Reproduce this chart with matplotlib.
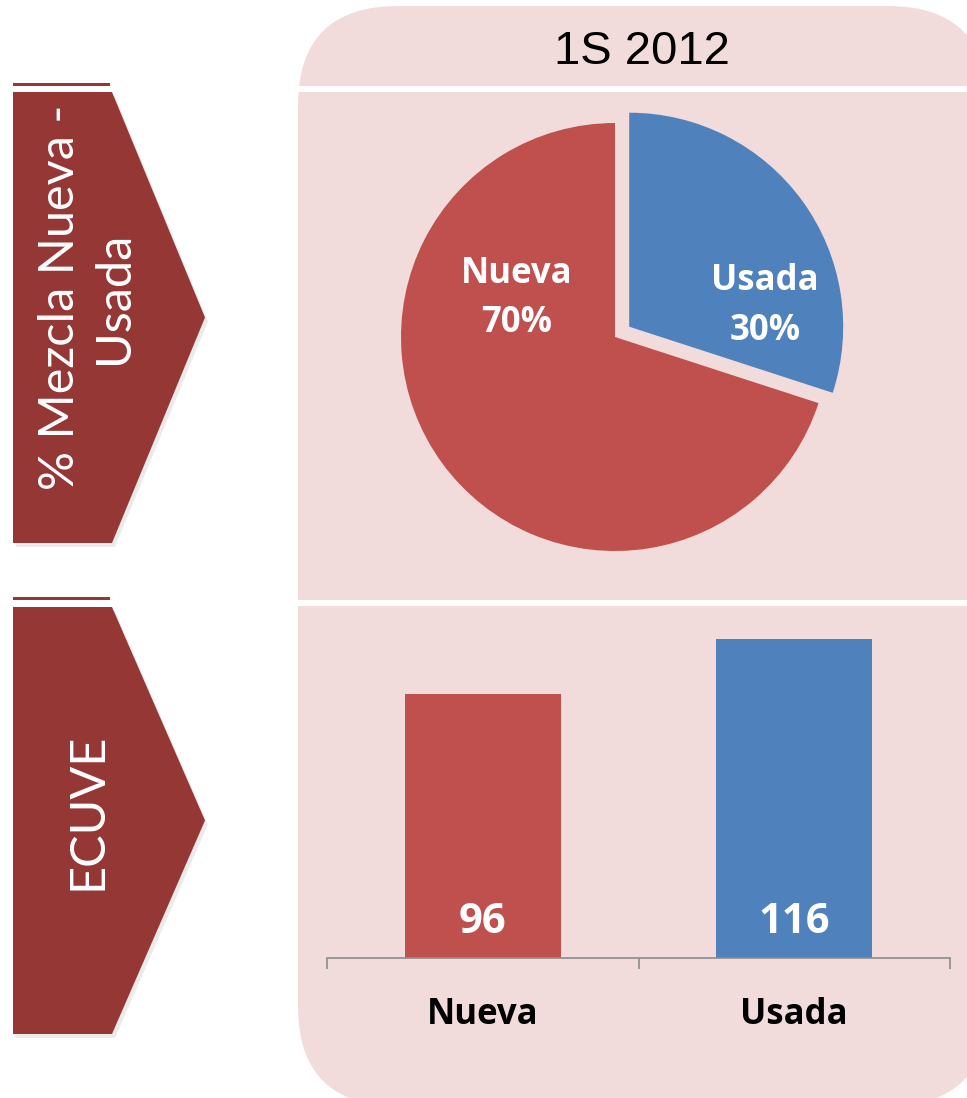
import matplotlib
matplotlib.use("Agg")
import matplotlib.pyplot as plt
from matplotlib.patches import FancyBboxPatch, Polygon, Rectangle

# data
period = "1S 2012"
categories = ["Nueva", "Usada"]
mix_pct = [70, 30]          # % Mezcla Nueva - Usada
ecuve = [96, 116]           # ECUVE
row_labels = ["% Mezcla Nueva -\nUsada", "ECUVE"]

RED = "#C0504D"
BLUE = "#4F81BD"
DARK = "#953735"
PINK = "#F2DCDB"
GRID = "#8C8C8C"

W, H = 967, 1098
fig = plt.figure(figsize=(W / 100, H / 100), dpi=100)

# background layer in pixel units
bg = fig.add_axes([0, 0, 1, 1], zorder=0)
bg.set_xlim(0, W)
bg.set_ylim(H, 0)
bg.axis("off")

panel = FancyBboxPatch((298, 6), 690, 1100,
                       boxstyle="round,pad=0,rounding_size=100",
                       fc=PINK, ec="none")
bg.add_patch(panel)
bg.add_patch(Rectangle((290, 86), 700, 6, fc="white", ec="none"))
bg.add_patch(Rectangle((290, 600), 700, 6, fc="white", ec="none"))
bg.text(642, 52, period, ha="center", va="center", fontsize=34,
        family="Liberation Sans", color="black")

# row chevrons
rows = [(92, 543, 83, -20), (607, 1034, 597, -9)]
for (top, bot, line_y, dy), lab in zip(rows, row_labels):
    mid = (top + bot) / 2
    pts = [(13, top), (112, top), (205, mid), (112, bot), (13, bot)]
    shadow = [(x + 3, y + 4) for x, y in pts]
    bg.add_patch(Polygon(shadow, closed=True, fc="#000000", alpha=0.08, ec="none"))
    bg.add_patch(Polygon(pts, closed=True, fc=DARK, ec="none"))
    bg.add_patch(Rectangle((13, line_y), 97, 3, fc=DARK, ec="none"))
    bg.text(87, mid + dy, lab, rotation=90, ha="center", va="center",
            fontsize=35, family="Lato", color="white", linespacing=1.3,
            multialignment="center")

# pie
cx, cy, r, half = 615, 337, 214, 240
ax_pie = fig.add_axes([(cx - half) / W, (H - cy - half) / H, 2 * half / W, 2 * half / H],
                      zorder=2)
ax_pie.pie([mix_pct[1], mix_pct[0]], colors=[BLUE, RED], startangle=90,
           counterclock=False, explode=[0.082, 0], radius=1,
           wedgeprops=dict(linewidth=0))
ax_pie.set_xlim(-half / r, half / r)
ax_pie.set_ylim(-half / r, half / r)
ax_pie.set_aspect("auto")
ax_pie.axis("off")
ax_pie.text(-0.458, 0.18, f"{categories[0]}\n{mix_pct[0]}%", ha="center", va="center",
            fontsize=25, family="Open Sans", fontweight="bold", color="white",
            linespacing=1.5)
ax_pie.text(0.70, 0.145, f"{categories[1]}\n{mix_pct[1]}%", ha="center", va="center",
            fontsize=25, family="Open Sans", fontweight="bold", color="white",
            linespacing=1.5)

# bars
left, right, base, top = 327, 950, 958, 620
ax_bar = fig.add_axes([left / W, (H - base) / H, (right - left) / W, (base - top) / H],
                      zorder=2)
ax_bar.patch.set_alpha(0)
x = [0, 1]
ax_bar.bar(x, ecuve, width=0.5, color=[RED, BLUE])
ax_bar.set_xlim(-0.5, 1.5)
ax_bar.set_ylim(0, (base - top) / 2.75)
for s in ["top", "right", "left"]:
    ax_bar.spines[s].set_visible(False)
ax_bar.spines["bottom"].set_color(GRID)
ax_bar.spines["bottom"].set_linewidth(1.2)
ax_bar.set_yticks([])
ax_bar.set_xticks(x)
ax_bar.set_xticklabels(categories, fontsize=25, family="Open Sans",
                       fontweight="bold", color="black")
ax_bar.tick_params(axis="x", which="major", length=0, pad=28)
ax_bar.set_xticks([-0.5, 0.5, 1.5], minor=True)
ax_bar.tick_params(axis="x", which="minor", length=8, width=1.2, color=GRID, direction="out")
for xi, v in zip(x, ecuve):
    ax_bar.text(xi, 13, str(v), ha="center", va="center", fontsize=30,
                family="Open Sans", fontweight="bold", color="white")

fig.savefig("out.png", dpi=100)
